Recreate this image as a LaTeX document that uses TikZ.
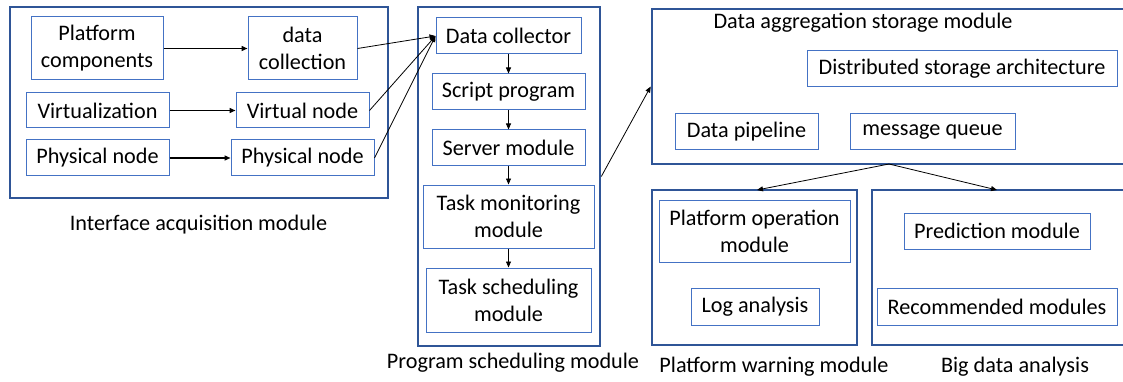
\documentclass[tikz,border=0pt]{standalone}
\usepackage{fontspec}
\setmainfont{Carlito}
\usetikzlibrary{arrows.meta}

\definecolor{framecol}{HTML}{2F5597}
\definecolor{boxcol}{HTML}{4472C4}

\tikzset{
  frame/.style={draw=framecol, line width=2.6pt, inner sep=0pt},
  box/.style={draw=boxcol, line width=1pt, align=center, inner sep=1pt},
  link/.style={-{Triangle[length=6pt,width=5pt]}, line width=0.8pt},
  thicklink/.style={-{Triangle[length=6pt,width=5pt]}, line width=1.4pt},
  caption/.style={inner sep=0pt}
}

\begin{document}
\begin{tikzpicture}[x=1pt, y=-1pt, font=\fontsize{22.2}{27}\selectfont]

% Page
\useasboundingbox (0,0) rectangle (1123,382);
\clip (0,0) rectangle (1123,382);

% Interface acquisition module
\node[frame, minimum width=378, minimum height=191] (iam) at (199,102.5) {};
\node[box, minimum width=132, minimum height=63] (pc) at (97,48.5) {Platform\\components};
\node[box, minimum width=109, minimum height=63] (dc) at (302.5,48.5) {data\\collection};
\node[box, minimum width=143, minimum height=35] (virt) at (97.5,110.5) {Virtualization};
\node[box, minimum width=133, minimum height=35] (vn) at (302.5,110.5) {Virtual node};
\node[box, minimum width=143, minimum height=36] (pn) at (97.5,158) {Physical node};
\node[box, minimum width=143, minimum height=36] (pnb) at (302.5,158) {Physical node};
\node[caption] (iamlabel) at (198.5,225) {Interface acquisition module};

% Program scheduling module
\node[frame, minimum width=182, minimum height=339] (psm) at (509,176.5) {};
\node[box, minimum width=145, minimum height=36] (coll) at (508.5,36) {Data collector};
\node[box, minimum width=153, minimum height=36] (script) at (508.5,92) {Script program};
\node[box, minimum width=153, minimum height=36] (server) at (508.5,148) {Server module};
\node[box, minimum width=171, minimum height=63] (monitor) at (508.5,216.5) {Task monitoring\\module};
\node[box, minimum width=165, minimum height=64] (sched) at (508.5,300) {Task scheduling\\module};
\node[caption] (psmlabel) at (513,363) {Program scheduling module};

% Data aggregation storage module
\node[frame, minimum width=483, minimum height=155] (agg) at (893.5,86.5) {};
\node[caption] (agglabel) at (863,23) {Data aggregation storage module};
\node[box, minimum width=310, minimum height=36] (dsa) at (962,69) {Distributed storage architecture};
\node[box, minimum width=143, minimum height=36] (pipe) at (746.5,132) {Data pipeline};
\node[box, minimum width=165, minimum height=36] (mq) at (932.5,132) {message queue};

% Platform warning module
\node[frame, minimum width=205, minimum height=155] (pwm) at (754.5,267.5) {};
\node[box, minimum width=191, minimum height=62] (pom) at (754.5,231) {Platform operation\\module};
\node[box, minimum width=128, minimum height=37] (log) at (755,306.5) {Log analysis};
\node[caption] (pwmlabel) at (774,367) {Platform warning module};

% Big data analysis
\node[frame, minimum width=263, minimum height=155] (bda) at (1003.5,267.5) {};
\node[box, minimum width=186, minimum height=36] (pred) at (997,231) {Prediction module};
\node[box, minimum width=240, minimum height=37] (rec) at (997,306.5) {Recommended modules};
\node[caption] (bdalabel) at (1015,367) {Big data analysis};

% Arrows inside the interface module
\draw[thicklink] (pc) -- (dc);
\draw[thicklink] (virt) -- (vn);
\draw[thicklink] (pn) -- (pnb);

% Arrows into the data collector
\draw[link] (dc.east) -- (coll.west);
\draw[link] (vn.east) -- (coll.west);
\draw[link] (pnb.east) -- (coll.west);

% Arrows down the program module
\draw[link] (coll) -- (script);
\draw[link] (script) -- (server);
\draw[link] (server) -- (monitor);
\draw[link] (monitor) -- (sched);

% Arrows between modules
\draw[link] (psm.east) -- (agg.west);
\coordinate (split) at (889,164);
\draw[link] (split) -- (757,190);
\draw[link] (split) -- (997,190);

\end{tikzpicture}
\end{document}
